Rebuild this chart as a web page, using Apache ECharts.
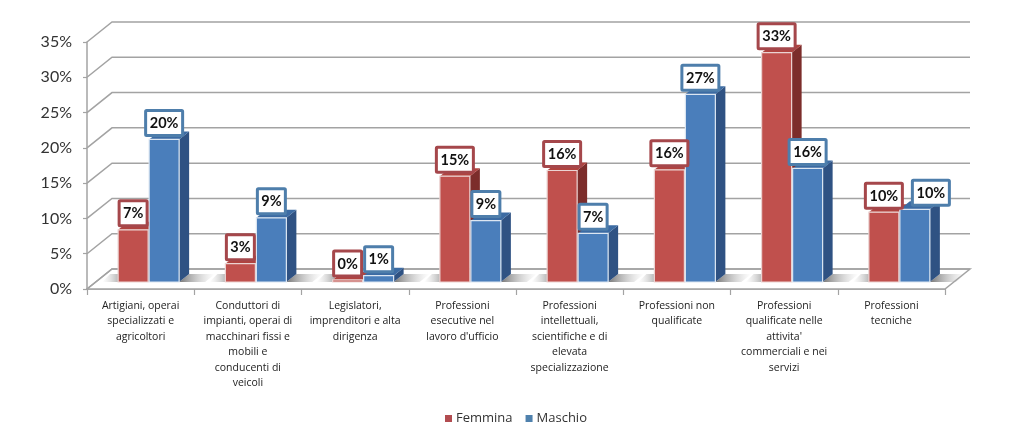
<!DOCTYPE html>
<html>
<head>
<meta charset="utf-8">
<style>html,body{margin:0;padding:0;background:#fff}#c{width:1024px;height:440px}</style>
<script src="https://cdn.jsdelivr.net/npm/echarts@6/dist/echarts.min.js"></script>
</head>
<body>
<div id="c"></div>
<script>
var categories = [
  "Artigiani, operai\nspecializzati e\nagricoltori",
  "Conduttori di\nimpianti, operai di\nmacchinari fissi e\nmobili e\nconducenti di\nveicoli",
  "Legislatori,\nimprenditori e alta\ndirigenza",
  "Professioni\nesecutive nel\nlavoro d'ufficio",
  "Professioni\nintellettuali,\nscientifiche e di\nelevata\nspecializzazione",
  "Professioni non\nqualificate",
  "Professioni\nqualificate nelle\nattivita'\ncommerciali e nei\nservizi",
  "Professioni\ntecniche"
];
var femmina = [7.4, 2.6, 0.3, 15.0, 15.8, 15.9, 32.5, 9.9];
var maschio = [20.2, 9.1, 0.9, 8.7, 6.9, 26.6, 16.1, 10.3];
var yTicks = [0, 5, 10, 15, 20, 25, 30, 35];

var RED = {front:'#C0504D', edge:'#EBD3D2', side:'#7C2D2B', top:'#B0433F', box:'#A5474B'};
var BLUE = {front:'#4A7EBB', edge:'#DCE6F2', side:'#2F5283', top:'#3C6BA3', box:'#4E7EAB'};
var WALL = '#A3A3A3';
var FONT = 'Lato, "Open Sans", sans-serif';
var CAT_FONT = '"Open Sans", Lato, sans-serif';
var WALL_DX = 25, WALL_DY = -20;
var BAR_W = 30, BAR_DX = 8, BASE_UP = 7, SIDE_DX = 10, SIDE_DY = 8;

function barX(idx, which, api) {
  var p = api.coord([idx, 0]);
  var mid = p[0] + BAR_DX;
  return which === 0 ? mid - BAR_W - 0.5 : mid + 0.5;
}
function poly(pts, fill) {
  return {type:'polygon', shape:{points:pts}, style:{fill:fill, stroke:null}};
}
function renderWall(params, api) {
  var cs = params.coordSys;
  var y = api.coord([0, api.value(1)])[1];
  var x0 = cs.x, x1 = cs.x + cs.width;
  var children = [];
  var lineStyle = {stroke:WALL, lineWidth:1.5, fill:null};
  if (api.value(1) === 0) {
    children.push({type:'polygon',
      shape:{points:[[x0,y],[x1,y],[x1+WALL_DX,y+WALL_DY],[x0+WALL_DX,y+WALL_DY]]},
      style:{fill:'#fff', stroke:WALL, lineWidth:1.5}});
  }
  children.push({type:'polyline',
    shape:{points:[[x0,y],[x0+WALL_DX,y+WALL_DY],[x1+WALL_DX,y+WALL_DY]]},
    style:lineStyle});
  return {type:'group', children:children};
}
function renderShadow(params, api) {
  var i = api.value(0);
  var base = api.coord([i, 0])[1] - BASE_UP;
  var l = barX(i, 0, api), r = barX(i, 1, api) + BAR_W;
  var gR = new echarts.graphic.LinearGradient(0,0,1,0,[{offset:0,color:'rgba(110,110,110,0.95)'},{offset:1,color:'rgba(190,190,190,0)'}]);
  var gL = new echarts.graphic.LinearGradient(1,0,0,0,[{offset:0,color:'rgba(140,140,140,0.85)'},{offset:1,color:'rgba(200,200,200,0)'}]);
  return {type:'group', children:[
    poly([[r,base],[r+SIDE_DX,base-SIDE_DY],[r+36,base-SIDE_DY],[r+26,base]], gR),
    poly([[l,base],[l-16,base],[l-8,base-SIDE_DY],[l+4,base-SIDE_DY]], gL)
  ]};
}
function makeBar(which, c) {
  return function(params, api) {
    var i = api.value(0), v = api.value(1);
    var x = barX(i, which, api);
    var yBase = api.coord([i, 0])[1] - BASE_UP;
    var yTop = api.coord([i, v])[1] - BASE_UP;
    var xr = x + BAR_W;
    return {type:'group', children:[
      poly([[xr,yBase],[xr+SIDE_DX,yBase-SIDE_DY],[xr+SIDE_DX,yTop-SIDE_DY],[xr,yTop]], c.side),
      poly([[x,yTop],[xr,yTop],[xr+SIDE_DX,yTop-SIDE_DY],[x+SIDE_DX,yTop-SIDE_DY]], c.top),
      {type:'rect', shape:{x:x, y:yTop, width:BAR_W, height:yBase-yTop},
       style:{fill:c.front, stroke:c.edge, lineWidth:1.2}}
    ]};
  };
}
function makeLabel(which, c) {
  return function(params, api) {
    var i = api.value(0), v = api.value(1);
    var text = Math.round(v) + '%';
    var w = text.length > 2 ? 37 : 28, h = 25;
    var cx = barX(i, which, api) + BAR_W / 2;
    var yTop = api.coord([i, v])[1] - BASE_UP;
    var bottom = yTop - 4;
    if (which === 1 && i === categories.length - 1) { cx += 16; }
    return {type:'group', children:[
      {type:'rect', shape:{x:cx-w/2, y:bottom-h, width:w, height:h, r:1},
       style:{fill:'#fff', stroke:c.box, lineWidth:3}},
      {type:'text', style:{x:cx, y:bottom-h/2+0.5, text:text, align:'center', verticalAlign:'middle',
        fill:'#111', font:'bold 14.5px '+FONT}}
    ]};
  };
}
function pairs(arr) { return arr.map(function(v,i){ return [i, v]; }); }
function customSeries(name, data, fn, z, color) {
  var s = {type:'custom', name:name, data:data, renderItem:fn, z:z, silent:true,
           encode:{x:0, y:1}, clip:false, animation:false};
  if (color) s.itemStyle = {color:color};
  return s;
}

var chart = echarts.init(document.getElementById('c'), null, {renderer:'canvas'});
chart.setOption({
  animation:false,
  backgroundColor:'#fff',
  legend:{
    data:['Femmina','Maschio'], left:440, top:407, itemWidth:7, itemHeight:7, itemGap:13, icon:'rect',
    selectedMode:false,
    textStyle:{fontFamily:CAT_FONT, fontSize:13, color:'#333', padding:[0,0,0,-1]}
  },
  grid:{left:87, right:79, top:42, bottom:151},
  xAxis:{
    type:'category', data:categories,
    axisLine:{lineStyle:{color:WALL, width:1.5}},
    axisTick:{show:true, length:6, alignWithLabel:false, lineStyle:{color:WALL, width:1.2}},
    axisLabel:{interval:0, margin:9, fontFamily:CAT_FONT, fontSize:10.5, lineHeight:15.5, color:'#222'}
  },
  yAxis:{
    type:'value', min:0, max:35, interval:5,
    splitLine:{show:false},
    axisLine:{show:true, lineStyle:{color:WALL, width:1.5}},
    axisTick:{show:true, length:4, lineStyle:{color:WALL, width:1.2}},
    axisLabel:{margin:15, fontFamily:FONT, fontSize:16, color:'#333', formatter:'{value}%', padding:[3,0,0,0]}
  },
  series:[
    customSeries('walls', yTicks.map(function(v){return [0,v];}), renderWall, 1),
    customSeries('shadows', pairs(femmina), renderShadow, 2),
    customSeries('Femmina', pairs(femmina), makeBar(0, RED), 3, '#B24C50'),
    customSeries('Maschio', pairs(maschio), makeBar(1, BLUE), 4, '#4F81AD'),
    customSeries('labelsF', pairs(femmina), makeLabel(0, RED), 5),
    customSeries('labelsM', pairs(maschio), makeLabel(1, BLUE), 6)
  ]
});
</script>
</body>
</html>
